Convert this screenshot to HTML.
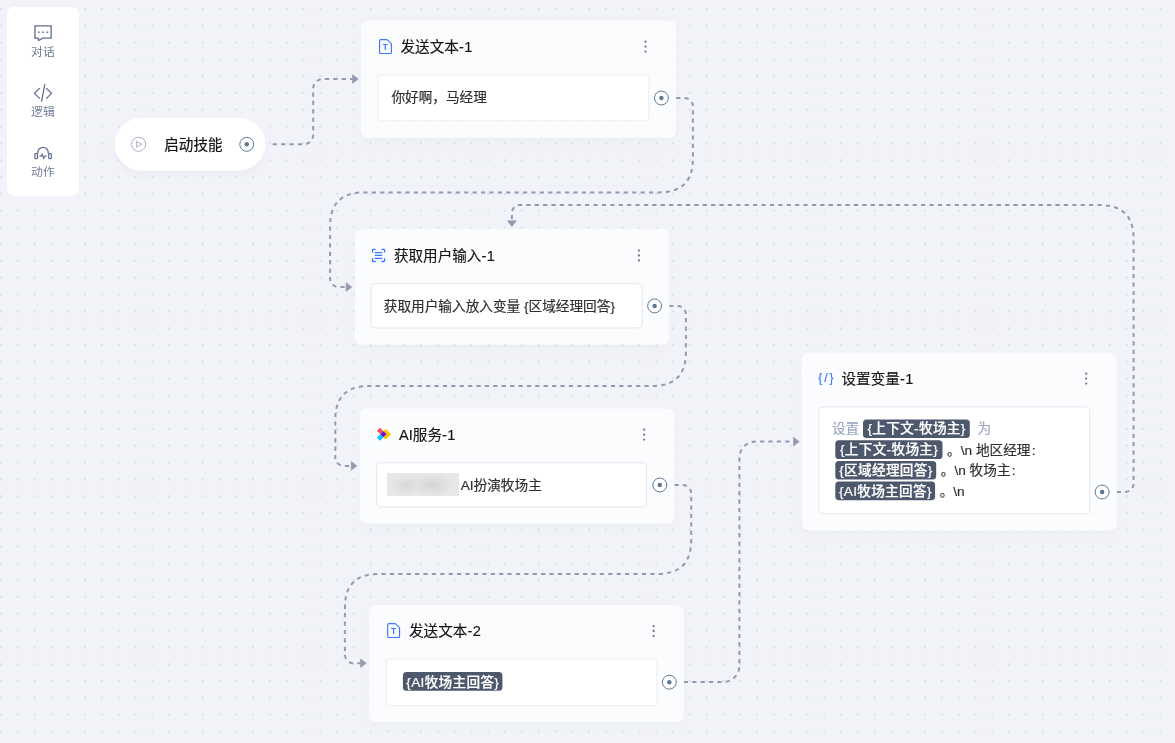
<!DOCTYPE html>
<html lang="zh-CN"><head><meta charset="utf-8"><title>flow</title>
<style>
html,body{margin:0;padding:0}
body{width:1175px;height:743px;overflow:hidden;position:relative;background:#f1f3f8;font-family:"Liberation Sans","Noto Sans CJK SC",sans-serif;color:#1a1a1a}
svg.layer{position:absolute;left:0;top:0;width:1175px;height:743px;overflow:visible}
.side{position:absolute;left:7px;top:7px;width:72px;height:189px;background:#fff;border-radius:7px}
.slabel{position:absolute;left:7px;width:72px;text-align:center;font-size:11.9px;line-height:16px;height:16px;color:#707d9a;white-space:nowrap}
.pill{position:absolute;left:114.7px;top:118px;width:150.8px;height:52.5px;border-radius:27px;box-shadow:0 4px 8px -2px rgba(110,120,150,0.07)}
.node{position:absolute;border-radius:7px;box-shadow:0 5px 10px -3px rgba(110,120,150,0.05)}
.inner{position:absolute;background:#fff;border:1px solid #e5e6eb;border-radius:3.4px;box-sizing:border-box}
.inner.ta{border-color:#ecedf1;border-radius:2px}
#root{position:absolute;left:0;top:0;width:1175px;height:743px;will-change:transform}
.title{position:absolute;-webkit-text-stroke:0.15px #141414;font-size:14.6px;line-height:20px;height:20px;white-space:nowrap;color:#141414}
.body{position:absolute;-webkit-text-stroke:0.18px;font-size:13.65px;line-height:20px;height:20px;white-space:nowrap;color:#303030}
.ls{letter-spacing:0.4px}
.body.dim{color:#9aa7c3}
.chip{position:absolute;-webkit-text-stroke:0.2px #fff;color:#fff;font-size:13.65px;letter-spacing:0.3px;text-indent:0.3px;text-align:center;white-space:nowrap;font-weight:500}
.blur{position:absolute;left:387.1px;top:473px;width:72px;height:23px;background:radial-gradient(ellipse 24% 48% at 26% 52%,#d9d9d9 0%,rgba(217,217,217,0) 100%),radial-gradient(ellipse 30% 52% at 63% 52%,#d5d5d5 0%,rgba(213,213,213,0) 100%),#e8e8e8}
</style></head><body><div id="root">
<svg class="layer" viewBox="0 0 1175 743">
<defs><pattern id="dots" x="0" y="0" width="84" height="84" patternUnits="userSpaceOnUse"><g fill="#d8ddec"><rect x="0.15" y="8.05" width="1.9" height="1.9" rx="0.4"/><rect x="0.15" y="24.85" width="1.9" height="1.9" rx="0.4"/><rect x="0.15" y="41.65" width="1.9" height="1.9" rx="0.4"/><rect x="0.15" y="58.45" width="1.9" height="1.9" rx="0.4"/><rect x="0.15" y="75.25" width="1.9" height="1.9" rx="0.4"/><rect x="16.95" y="8.05" width="1.9" height="1.9" rx="0.4"/><rect x="16.95" y="24.85" width="1.9" height="1.9" rx="0.4"/><rect x="16.95" y="41.65" width="1.9" height="1.9" rx="0.4"/><rect x="16.95" y="58.45" width="1.9" height="1.9" rx="0.4"/><rect x="16.95" y="75.25" width="1.9" height="1.9" rx="0.4"/><rect x="33.75" y="8.05" width="1.9" height="1.9" rx="0.4"/><rect x="33.75" y="24.85" width="1.9" height="1.9" rx="0.4"/><rect x="33.75" y="41.65" width="1.9" height="1.9" rx="0.4"/><rect x="33.75" y="58.45" width="1.9" height="1.9" rx="0.4"/><rect x="33.75" y="75.25" width="1.9" height="1.9" rx="0.4"/><rect x="50.55" y="8.05" width="1.9" height="1.9" rx="0.4"/><rect x="50.55" y="24.85" width="1.9" height="1.9" rx="0.4"/><rect x="50.55" y="41.65" width="1.9" height="1.9" rx="0.4"/><rect x="50.55" y="58.45" width="1.9" height="1.9" rx="0.4"/><rect x="50.55" y="75.25" width="1.9" height="1.9" rx="0.4"/><rect x="67.35" y="8.05" width="1.9" height="1.9" rx="0.4"/><rect x="67.35" y="24.85" width="1.9" height="1.9" rx="0.4"/><rect x="67.35" y="41.65" width="1.9" height="1.9" rx="0.4"/><rect x="67.35" y="58.45" width="1.9" height="1.9" rx="0.4"/><rect x="67.35" y="75.25" width="1.9" height="1.9" rx="0.4"/></g></pattern></defs>
<rect x="0" y="0" width="1175" height="743" fill="url(#dots)"/>
<path d="M272.7,144.3 L303.7,144.3 A9.5,9.5 0 0 0 313.2,134.8 L313.2,88.5 A9.5,9.5 0 0 1 322.7,79 L352.5,79" fill="none" stroke="#9698b0" stroke-width="2" stroke-dasharray="4.2 4.2" stroke-dashoffset="0"/><path d="M352.5,74.6 L358.2,79.0 L352.5,83.4 Z" fill="#9698b0" stroke="#9698b0" stroke-width="0.6" stroke-linejoin="round"/><path d="M676.2,98 L684.5,98 A8.4,8.4 0 0 1 692.9,106.4 L692.9,158.8 Q692.9,192.4 659.3,192.4 L363.70000000000005,192.4 Q330.1,192.4 330.1,226.0 L330.1,278.6 A8.4,8.4 0 0 0 338.5,287 L346,287" fill="none" stroke="#9698b0" stroke-width="2" stroke-dasharray="4.2 4.2" stroke-dashoffset="0"/><path d="M346.1,282.6 L351.8,287.0 L346.1,291.4 Z" fill="#9698b0" stroke="#9698b0" stroke-width="0.6" stroke-linejoin="round"/><path d="M669.2,305.9 L677.5,305.9 A8.4,8.4 0 0 1 685.9,314.29999999999995 L685.9,352.4 Q685.9,386 652.3,386 L368.90000000000003,386 Q335.3,386 335.3,419.6 L335.3,457.5 A8.4,8.4 0 0 0 343.7,465.9 L351,465.9" fill="none" stroke="#9698b0" stroke-width="2" stroke-dasharray="4.2 4.2" stroke-dashoffset="0"/><path d="M351.2,461.5 L356.9,465.9 L351.2,470.3 Z" fill="#9698b0" stroke="#9698b0" stroke-width="0.6" stroke-linejoin="round"/><path d="M674.4,485 L682.8000000000001,485 A8.4,8.4 0 0 1 691.2,493.4 L691.2,540.3 Q691.2,573.9 657.6,573.9 L378.5,573.9 Q344.9,573.9 344.9,607.5 L344.9,654.8000000000001 A8.4,8.4 0 0 0 353.29999999999995,663.2 L360.4,663.2" fill="none" stroke="#9698b0" stroke-width="2" stroke-dasharray="4.2 4.2" stroke-dashoffset="0"/><path d="M360.5,658.8 L366.2,663.2 L360.5,667.6 Z" fill="#9698b0" stroke="#9698b0" stroke-width="0.6" stroke-linejoin="round"/><path d="M683.8,682 L723.1999999999999,682 A16.2,16.2 0 0 0 739.4,665.8 L739.4,457.8 A16.2,16.2 0 0 1 755.6,441.6 L793.3,441.6" fill="none" stroke="#9698b0" stroke-width="2" stroke-dasharray="4.2 4.2" stroke-dashoffset="0"/><path d="M793.5,437.2 L799.2,441.6 L793.5,446.0 Z" fill="#9698b0" stroke="#9698b0" stroke-width="0.6" stroke-linejoin="round"/><path d="M1116.8,492 L1125.1999999999998,492 A8.4,8.4 0 0 0 1133.6,483.6 L1133.6,238.7 Q1133.6,205.1 1100.0,205.1 L519.5,205.1 A7.6,7.6 0 0 0 511.9,212.7 L511.9,221" fill="none" stroke="#9698b0" stroke-width="2" stroke-dasharray="4.2 4.2" stroke-dashoffset="0"/><path d="M507.5,220.8 L511.9,226.5 L516.3,220.8 Z" fill="#9698b0" stroke="#9698b0" stroke-width="0.6" stroke-linejoin="round"/>
<rect x="361" y="20.6" width="315" height="117.2" rx="7" fill="rgba(255,255,255,0.72)"/><rect x="354.8" y="229.3" width="314.5" height="115.3" rx="7" fill="rgba(255,255,255,0.72)"/><rect x="359.9" y="408.5" width="314.5" height="115.1" rx="7" fill="rgba(255,255,255,0.72)"/><rect x="369.2" y="605" width="314.6" height="117" rx="7" fill="rgba(255,255,255,0.72)"/><rect x="802.1" y="352.7" width="314.65" height="177.9" rx="7" fill="rgba(255,255,255,0.72)"/><rect x="377.90" y="74.80" width="271.00" height="46.10" rx="2" fill="#fff" stroke="#ecedf1" stroke-width="1"/><rect x="371.10" y="283.80" width="270.90" height="44.10" rx="3.4" fill="#fff" stroke="#e5e6eb" stroke-width="1"/><rect x="376.60" y="462.80" width="270.10" height="44.10" rx="3.4" fill="#fff" stroke="#e5e6eb" stroke-width="1"/><rect x="386.50" y="658.90" width="270.40" height="46.80" rx="2" fill="#fff" stroke="#ecedf1" stroke-width="1"/><rect x="818.80" y="406.90" width="270.90" height="106.80" rx="3.4" fill="#fff" stroke="#e5e6eb" stroke-width="1"/><rect x="402.9" y="672.1" width="99.5" height="18.7" rx="3.6" fill="#4e586c"/><rect x="863" y="419.4" width="106.8" height="18.7" rx="3.6" fill="#4e586c"/><rect x="835.3" y="440.3" width="107.2" height="18.7" rx="3.6" fill="#4e586c"/><rect x="835.3" y="460.9" width="100.9" height="18.7" rx="3.6" fill="#4e586c"/><rect x="835.3" y="481.5" width="99.8" height="18.7" rx="3.6" fill="#4e586c"/><rect x="114.7" y="118" width="150.8" height="52.5" rx="26.25" fill="#fff"/>
</svg>
<div class="side"></div>
<div class="slabel" style="top:44px">对话</div>
<div class="slabel" style="top:104px">逻辑</div>
<div class="slabel" style="top:164px">动作</div>
<div class="pill"></div>
<div class="node" style="left:361px;top:20.6px;width:315px;height:117.2px"></div>
<div class="node" style="left:354.8px;top:229.3px;width:314.5px;height:115.3px"></div>
<div class="node" style="left:359.9px;top:408.5px;width:314.5px;height:115.1px"></div>
<div class="node" style="left:369.2px;top:605px;width:314.6px;height:117px"></div>
<div class="node" style="left:802.1px;top:352.7px;width:314.65px;height:177.9px"></div>





<div class="title" style="left:164.3px;top:134.9px;font-size:14.55px;-webkit-text-stroke:0.22px #141414">启动技能</div>
<div class="title" style="left:400.5px;top:36.6px">发送文本<span class="ls">-1</span></div>
<div class="title" style="left:393.9px;top:245.6px">获取用户输入<span class="ls">-1</span></div>
<div class="title" style="left:399px;top:424.5px">AI服务<span class="ls">-1</span></div>
<div class="title" style="left:409px;top:621px">发送文本<span class="ls">-2</span></div>
<div class="title" style="left:841.5px;top:368.7px">设置变量<span class="ls">-1</span></div>
<div class="body" style="left:391.4px;top:88px">你好啊，马经理</div>
<div class="body" style="left:383.8px;top:297px">获取用户输入放入变量 {区域经理回答}</div>
<div class="blur"></div>
<div class="body" style="left:460.7px;top:475.7px">AI扮演牧场主</div>
<div class="chip" style="left:402.9px;top:672.1px;width:99.5px;height:18.7px;line-height:21.3px;overflow:hidden">{AI牧场主回答}</div>
<div class="body dim" style="left:831.9px;top:418.8px">设置</div>
<div class="chip" style="left:863px;top:419.4px;width:106.8px;height:18.7px;line-height:19.5px;overflow:hidden">{上下文-牧场主}</div>
<div class="body dim" style="left:977.6px;top:418.8px">为</div>
<div class="chip" style="left:835.3px;top:440.3px;width:107.2px;height:18.7px;line-height:19.5px;overflow:hidden">{上下文-牧场主}</div>
<div class="body" style="left:947.1px;top:440.8px">。\n 地区经理<span style="margin-left:1.3px">:</span></div>
<div class="chip" style="left:835.3px;top:460.9px;width:100.9px;height:18.7px;line-height:19.5px;overflow:hidden">{区域经理回答}</div>
<div class="body" style="left:940.8px;top:461.4px">。\n 牧场主<span style="margin-left:1.3px">:</span></div>
<div class="chip" style="left:835.3px;top:481.5px;width:99.8px;height:18.7px;line-height:19.5px;overflow:hidden">{AI牧场主回答}</div>
<div class="body" style="left:939.7px;top:482px">。\n</div>
<svg class="layer" viewBox="0 0 1175 743">
<circle cx="246.75" cy="144.3" r="6.95" fill="#fff" stroke="#5f7994" stroke-width="1.0"/><circle cx="246.75" cy="144.3" r="2.25" fill="#5f7994"/><circle cx="661.4" cy="98" r="6.95" fill="#fff" stroke="#5f7994" stroke-width="1.0"/><circle cx="661.4" cy="98" r="2.25" fill="#5f7994"/><circle cx="654.6" cy="305.9" r="6.95" fill="#fff" stroke="#5f7994" stroke-width="1.0"/><circle cx="654.6" cy="305.9" r="2.25" fill="#5f7994"/><circle cx="659.8" cy="485" r="6.95" fill="#fff" stroke="#5f7994" stroke-width="1.0"/><circle cx="659.8" cy="485" r="2.25" fill="#5f7994"/><circle cx="669.3" cy="682.2" r="6.95" fill="#fff" stroke="#5f7994" stroke-width="1.0"/><circle cx="669.3" cy="682.2" r="2.25" fill="#5f7994"/><circle cx="1102.1" cy="492" r="6.95" fill="#fff" stroke="#5f7994" stroke-width="1.0"/><circle cx="1102.1" cy="492" r="2.25" fill="#5f7994"/><circle cx="645.5" cy="41.65" r="1.15" fill="#76767f"/><circle cx="645.5" cy="46.6" r="1.15" fill="#76767f"/><circle cx="645.5" cy="51.550000000000004" r="1.15" fill="#76767f"/><circle cx="638.9" cy="250.55" r="1.15" fill="#76767f"/><circle cx="638.9" cy="255.5" r="1.15" fill="#76767f"/><circle cx="638.9" cy="260.45" r="1.15" fill="#76767f"/><circle cx="644.2" cy="429.65000000000003" r="1.15" fill="#76767f"/><circle cx="644.2" cy="434.6" r="1.15" fill="#76767f"/><circle cx="644.2" cy="439.55" r="1.15" fill="#76767f"/><circle cx="653.65" cy="626.05" r="1.15" fill="#76767f"/><circle cx="653.65" cy="631" r="1.15" fill="#76767f"/><circle cx="653.65" cy="635.95" r="1.15" fill="#76767f"/><circle cx="1086.2" cy="373.65000000000003" r="1.15" fill="#76767f"/><circle cx="1086.2" cy="378.6" r="1.15" fill="#76767f"/><circle cx="1086.2" cy="383.55" r="1.15" fill="#76767f"/>
<!-- play icon -->
<circle cx="138.6" cy="144.3" r="7.1" fill="none" stroke="#a3a6b9" stroke-width="0.9"/>
<path d="M136.6,141.4 L141.6,144.3 L136.6,147.2 Z" fill="none" stroke="#a3a6b9" stroke-width="0.9" stroke-linejoin="round"/>
<!-- sidebar icons -->
<g fill="none" stroke="#5f6e8e" stroke-width="1.3">
<path d="M34.95,25.9 H51.15 V38.2 H42.6 L38.6,40.5 L38.2,38.2 H34.95 Z" stroke-linejoin="miter"/>
<path d="M39.8,88.1 L34.5,93.35 L39.8,98.6 M46.2,88.1 L51.5,93.35 L46.2,98.6 M44.9,84 L41.5,101.6" stroke-width="1.3"/>
<path d="M37.85,153.6 V152.5 A5.2,5.2 0 0 1 48.25,152.5 V153.6" stroke-width="1.3"/>
<rect x="34.9" y="153.7" width="2.6" height="5" rx="0.8" stroke-width="1.2"/>
<rect x="48.7" y="153.7" width="2.6" height="5" rx="0.8" stroke-width="1.2"/>
<path d="M39.4,156.2 H41.2 L42.2,153.9 L43.7,158.6 L44.7,156.2 H46.7" stroke-width="1.2" stroke-linejoin="round"/>
</g>
<g fill="#5c6c8c"><rect x="38" y="31.5" width="1.5" height="1.5"/><rect x="42.3" y="31.5" width="1.5" height="1.5"/><rect x="46.6" y="31.5" width="1.5" height="1.5"/></g>
<!-- doc T icons -->
<g id="docT" fill="none" stroke="#3f78ff" stroke-width="1.15" stroke-linejoin="round">
<path d="M380.6,39.55 H387 L391.4,43.6 V52.4 Q391.4,53.45 390.3,53.45 H380.6 Q379.55,53.45 379.55,52.4 V40.6 Q379.55,39.55 380.6,39.55 Z"/>
<text x="385.3" y="49.95" text-anchor="middle" font-size="8.4" font-weight="700" fill="#3f78ff" stroke="none" font-family="Liberation Sans, sans-serif">T</text>
</g>
<g fill="none" stroke="#3f78ff" stroke-width="1.15" stroke-linejoin="round" transform="translate(8.15,584)">
<path d="M380.6,39.55 H387 L391.4,43.6 V52.4 Q391.4,53.45 390.3,53.45 H380.6 Q379.55,53.45 379.55,52.4 V40.6 Q379.55,39.55 380.6,39.55 Z"/>
<text x="385.3" y="49.95" text-anchor="middle" font-size="8.4" font-weight="700" fill="#3f78ff" stroke="none" font-family="Liberation Sans, sans-serif">T</text>
</g>
<!-- scan icon -->
<g fill="none" stroke="#3b76ff" stroke-width="1.35">
<path d="M372.55,252.6 V250 Q372.55,249.3 373.3,249.3 H375.7 M381.4,249.3 H383.8 Q384.55,249.3 384.55,250 V252.6 M384.55,258.2 V260.8 Q384.55,261.5 383.8,261.5 H381.4 M375.7,261.5 H373.3 Q372.55,261.5 372.55,260.8 V258.2"/>
<path d="M374.8,252.5 H382.2 M374.8,255.45 H382.2 M374.8,258.4 H382.2" stroke-width="1.25"/>
</g>
<!-- AI logo -->
<polygon points="379.9,427.7 383.3,431 380.2,434.1 376.9,430.9" fill="#ff4d4f"/>
<polygon points="380.2,434.2 383.3,437.4 380,440.7 376.9,437.5" fill="#00c5ff"/>
<polygon points="385.7,428.9 391.1,434.25 385.7,439.6 383.4,437.3 386.6,434.15 383.4,431" fill="#ffc200"/>
<polygon points="383.4,430.9 386.6,434.15 383.4,437.3 380.2,434.15" fill="#6510c8"/>
</svg>
<div style="position:absolute;left:818.3px;top:370px;font-size:12px;line-height:16px;color:#3f78ff;letter-spacing:1.9px;-webkit-text-stroke:0.2px;white-space:nowrap">{/}</div>
</div></body></html>
